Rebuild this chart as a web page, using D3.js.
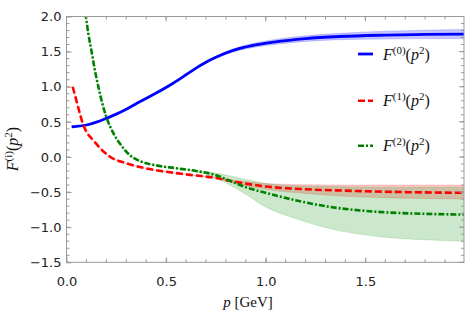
<!DOCTYPE html>
<html>
<head>
<meta charset="utf-8">
<script src="https://cdn.jsdelivr.net/npm/d3@7"></script>
<style>
  body { margin: 0; background: #fff; }
  .tick text { font-family: "DejaVu Sans", sans-serif; font-size: 13px; fill: #222; }
  .serif { font-family: "Liberation Serif", "Times New Roman", serif; fill: #111; }
</style>
</head>
<body>
<div id="chart"></div>
<script>
// F0 (blue, solid) with its error band
var p0   = [0.026, 0.05, 0.1, 0.15, 0.2, 0.25, 0.3, 0.37, 0.45, 0.535, 0.6, 0.65, 0.7, 0.75, 0.8, 0.87, 0.95, 1.04, 1.2, 1.37, 1.6, 1.8, 2.0];
var f0   = [0.43, 0.435, 0.455, 0.495, 0.55, 0.61, 0.68, 0.79, 0.91, 1.05, 1.17, 1.265, 1.35, 1.42, 1.48, 1.545, 1.595, 1.635, 1.685, 1.715, 1.735, 1.745, 1.75];
var f0Lo = [0.43, 0.435, 0.455, 0.495, 0.55, 0.61, 0.68, 0.79, 0.91, 1.05, 1.165, 1.257, 1.338, 1.405, 1.46, 1.52, 1.565, 1.60, 1.645, 1.67, 1.68, 1.685, 1.685];
var f0Hi = [0.43, 0.435, 0.455, 0.495, 0.55, 0.61, 0.68, 0.79, 0.91, 1.05, 1.175, 1.273, 1.362, 1.435, 1.50, 1.57, 1.625, 1.67, 1.725, 1.76, 1.79, 1.805, 1.815];

// F1 (red, dashed)
var p1   = [0.031, 0.05, 0.065, 0.08, 0.1, 0.134, 0.177, 0.22, 0.3, 0.385, 0.45, 0.55, 0.65, 0.75, 0.82, 0.9, 1.0, 1.2, 1.4, 1.6, 1.8, 2.0];
var f1   = [1.0, 0.80, 0.64, 0.49, 0.36, 0.24, 0.10, 0.0, -0.09, -0.155, -0.19, -0.23, -0.265, -0.30, -0.34, -0.38, -0.42, -0.46, -0.48, -0.495, -0.505, -0.51];
var f1Lo = [1.0, 0.80, 0.64, 0.49, 0.36, 0.24, 0.10, 0.0, -0.09, -0.155, -0.19, -0.23, -0.265, -0.30, -0.355, -0.41, -0.46, -0.52, -0.56, -0.58, -0.59, -0.60];
var f1Hi = [1.0, 0.80, 0.64, 0.49, 0.36, 0.24, 0.10, 0.0, -0.09, -0.155, -0.19, -0.23, -0.265, -0.30, -0.325, -0.35, -0.38, -0.395, -0.40, -0.40, -0.40, -0.40];

// F2 (green, dash-dot)
var p2   = [0.095, 0.11, 0.126, 0.14, 0.16, 0.18, 0.2, 0.235, 0.268, 0.32, 0.37, 0.45, 0.55, 0.65, 0.75, 0.82, 0.9, 0.985, 1.155, 1.32, 1.555, 1.8, 2.0];
var f2   = [2.05, 1.75, 1.5, 1.27, 1.0, 0.76, 0.57, 0.34, 0.19, 0.02, -0.06, -0.12, -0.16, -0.20, -0.26, -0.34, -0.43, -0.50, -0.62, -0.71, -0.78, -0.81, -0.82];
var f2Lo = [2.05, 1.75, 1.5, 1.27, 1.0, 0.76, 0.57, 0.34, 0.19, 0.02, -0.06, -0.12, -0.16, -0.21, -0.30, -0.40, -0.53, -0.69, -0.88, -1.02, -1.13, -1.18, -1.2];
var f2Hi = [2.05, 1.75, 1.5, 1.27, 1.0, 0.76, 0.57, 0.34, 0.19, 0.02, -0.06, -0.12, -0.16, -0.19, -0.23, -0.27, -0.32, -0.37, -0.41, -0.42, -0.43, -0.43, -0.43];

var xTicks = [0, 0.5, 1.0, 1.5];
var yTicks = [-1.5, -1.0, -0.5, 0, 0.5, 1.0, 1.5, 2.0];
var legendNames = ["(0)", "(1)", "(2)"];

(function () {
  var width = 466, height = 322;
  var mLeft = 66.5, mRight = 464, mTop = 16.5, mBottom = 262.3;

  var svg = d3.select("#chart").append("svg")
    .attr("width", width)
    .attr("height", height);

  var x = d3.scaleLinear().domain([0, 1.995]).range([mLeft, mRight]);
  var y = d3.scaleLinear().domain([-1.5, 2.0]).range([mBottom, mTop]);

  svg.append("clipPath").attr("id", "plot")
    .append("rect")
    .attr("x", mLeft).attr("y", mTop)
    .attr("width", mRight - mLeft).attr("height", mBottom - mTop);

  var series = [
    { p: p0, v: f0, lo: f0Lo, hi: f0Hi, color: "#0000ff", band: "rgba(0,0,255,0.22)", dash: null, width: 2.8 },
    { p: p1, v: f1, lo: f1Lo, hi: f1Hi, color: "#ff0000", band: "rgba(255,0,0,0.2)", dash: "7,3", width: 2.6 },
    { p: p2, v: f2, lo: f2Lo, hi: f2Hi, color: "#008000", band: "rgba(0,140,0,0.2)", dash: "6,2,2,2", width: 2.6 }
  ];

  var plot = svg.append("g").attr("clip-path", "url(#plot)");

  // error bands first
  series.forEach(function (s) {
    var area = d3.area()
      .x(function (d, i) { return x(s.p[i]); })
      .y0(function (d, i) { return y(s.lo[i]); })
      .y1(function (d, i) { return y(s.hi[i]); })
      .curve(d3.curveMonotoneX);
    plot.append("path")
      .attr("d", area(s.p))
      .style("fill", s.band)
      .style("stroke", s.band)
      .style("stroke-width", 0.8);
  });

  // central curves
  series.forEach(function (s) {
    var line = d3.line()
      .x(function (d, i) { return x(s.p[i]); })
      .y(function (d, i) { return y(s.v[i]); })
      .curve(d3.curveMonotoneX);
    plot.append("path")
      .attr("d", line(s.p))
      .style("fill", "none")
      .style("stroke", s.color)
      .style("stroke-width", s.width)
      .style("stroke-dasharray", s.dash);
  });

  // frame with ticks on all four sides
  var frameColor = "#999";
  function fmt(v) { return v < 0 ? "\u2212" + d3.format(".1f")(-v) : d3.format(".1f")(v); }

  var gx = svg.append("g").attr("transform", "translate(0," + mBottom + ")")
    .call(d3.axisBottom(x).tickValues(xTicks).tickSize(5).tickFormat(fmt));
  gx.selectAll(".tick line").attr("y2", -5).style("stroke", frameColor);
  gx.selectAll(".tick text").attr("y", 14);
  gx.select(".domain").remove();

  var gy = svg.append("g").attr("transform", "translate(" + mLeft + ",0)")
    .call(d3.axisLeft(y).tickValues(yTicks).tickSize(5).tickFormat(fmt));
  gy.selectAll(".tick line").attr("x2", 5).style("stroke", frameColor);
  gy.selectAll(".tick text").attr("x", -5);
  gy.select(".domain").remove();

  // minor ticks, plus the unlabeled top/right majors
  var xMinor = d3.range(0, 2.0, 0.1);
  var yMinor = d3.range(-1.5, 2.01, 0.1);
  var minor = svg.append("g").style("stroke", frameColor).style("stroke-width", 1);
  xMinor.forEach(function (v) {
    minor.append("line").attr("x1", x(v)).attr("x2", x(v)).attr("y1", mBottom).attr("y2", mBottom - 3);
    minor.append("line").attr("x1", x(v)).attr("x2", x(v)).attr("y1", mTop).attr("y2", mTop + 3);
  });
  yMinor.forEach(function (v) {
    minor.append("line").attr("x1", mLeft).attr("x2", mLeft + 3).attr("y1", y(v)).attr("y2", y(v));
    minor.append("line").attr("x1", mRight).attr("x2", mRight - 3).attr("y1", y(v)).attr("y2", y(v));
  });
  xTicks.forEach(function (v) {
    minor.append("line").attr("x1", x(v)).attr("x2", x(v)).attr("y1", mTop).attr("y2", mTop + 5);
  });
  yTicks.forEach(function (v) {
    minor.append("line").attr("x1", mRight).attr("x2", mRight - 5).attr("y1", y(v)).attr("y2", y(v));
  });

  svg.append("rect")
    .attr("x", mLeft).attr("y", mTop)
    .attr("width", mRight - mLeft).attr("height", mBottom - mTop)
    .style("fill", "none").style("stroke", frameColor).style("stroke-width", 1);

  // F^(n)(p^2) label helper
  function fLabel(g, sup, size) {
    var small = Math.round(size * 0.68) + "px", up = -Math.round(size * 0.38);
    var t = g.append("text").attr("class", "serif").style("font-size", size + "px");
    t.append("tspan").style("font-style", "italic").text("F");
    t.append("tspan").attr("dy", up).style("font-size", small).text(sup);
    t.append("tspan").attr("dy", -up).text("(");
    t.append("tspan").style("font-style", "italic").text("p");
    t.append("tspan").attr("dy", up).style("font-size", small).text("2");
    t.append("tspan").attr("dy", -up).text(")");
    return t;
  }

  // legend
  var legendY = [54, 100.7, 145.7];
  series.forEach(function (s, i) {
    var g = svg.append("g").attr("transform", "translate(358," + legendY[i] + ")");
    g.append("line")
      .attr("x1", 0).attr("x2", 15)
      .style("stroke", s.color)
      .style("stroke-width", s.width)
      .style("stroke-dasharray", s.dash);
    fLabel(g, legendNames[i], 16).attr("x", 25).attr("y", 5.5);
  });

  // axis labels
  var xl = svg.append("text").attr("class", "serif")
    .attr("x", 248).attr("y", 307)
    .style("font-size", "15px")
    .attr("text-anchor", "middle");
  xl.append("tspan").style("font-style", "italic").text("p");
  xl.append("tspan").text(" [GeV]");

  var yl = svg.append("g").attr("transform", "translate(18,149) rotate(-90)");
  fLabel(yl, "(i)", 16).attr("text-anchor", "middle");
})();
</script>
</body>
</html>
